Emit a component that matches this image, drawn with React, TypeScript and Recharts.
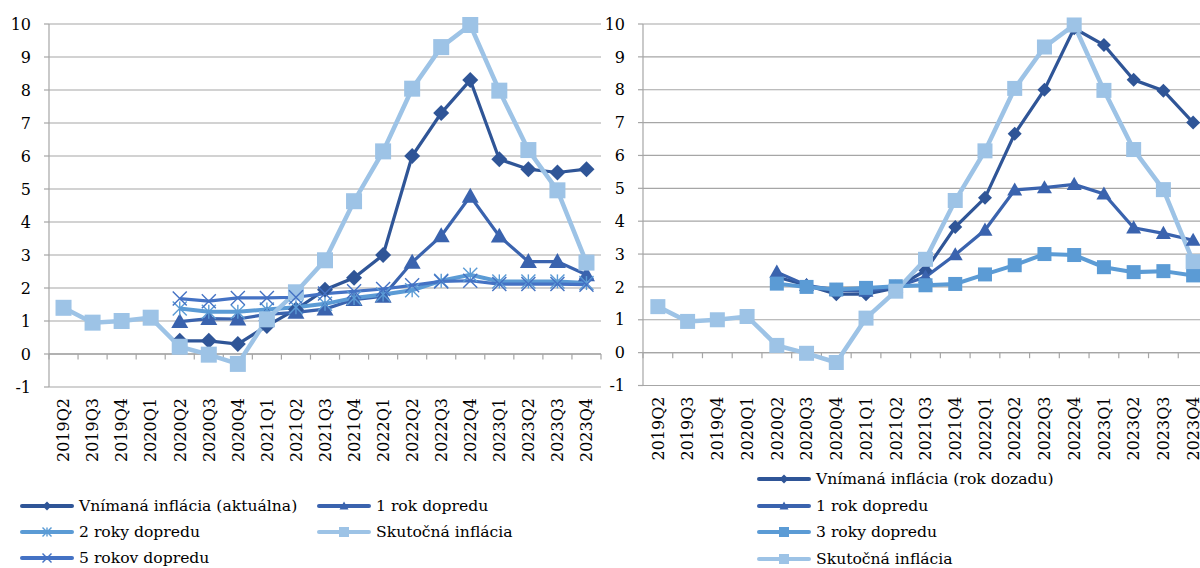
// Inflation expectations vs. actual inflation (two panels)

import {
  LineChart,
  Line,
  XAxis,
  YAxis,
  CartesianGrid,
  ReferenceLine,
  Legend,
} from "recharts";

const quarters = [
  "2019Q2", "2019Q3", "2019Q4", "2020Q1", "2020Q2", "2020Q3", "2020Q4",
  "2021Q1", "2021Q2", "2021Q3", "2021Q4", "2022Q1", "2022Q2", "2022Q3",
  "2022Q4", "2023Q1", "2023Q2", "2023Q3", "2023Q4",
];

const yTicks = [-1, 0, 1, 2, 3, 4, 5, 6, 7, 8, 9, 10];

// shared: actual inflation
const actualInflation = [
  1.4, 0.95, 1.0, 1.1, 0.22, -0.02, -0.3, 1.05, 1.87, 2.84, 4.63, 6.14, 8.04,
  9.3, 9.97, 7.98, 6.18, 4.96, 2.77,
];

// left panel
const perceivedCurrent = [
  null, null, null, null, 0.4, 0.4, 0.3, 0.85, 1.35, 1.95, 2.31, 3.0, 6.0,
  7.3, 8.3, 5.9, 5.6, 5.5, 5.6,
];
const oneYearLeft = [
  null, null, null, null, 0.98, 1.07, 1.06, 1.2, 1.26, 1.36, 1.65, 1.75, 2.78,
  3.58, 4.78, 3.57, 2.8, 2.8, 2.4,
];
const twoYears = [
  null, null, null, null, 1.38, 1.28, 1.28, 1.35, 1.42, 1.52, 1.7, 1.8, 1.93,
  2.22, 2.4, 2.2, 2.2, 2.2, 2.15,
];
const fiveYears = [
  null, null, null, null, 1.68, 1.6, 1.7, 1.7, 1.72, 1.83, 1.9, 1.97, 2.08,
  2.2, 2.22, 2.12, 2.12, 2.12, 2.1,
];

// right panel
const perceivedBack = [
  null, null, null, null, 2.3, 2.05, 1.78, 1.78, 1.97, 2.5, 3.82, 4.71, 6.66,
  8.0, 9.87, 9.36, 8.3, 7.97, 7.0,
];
const oneYearRight = [
  null, null, null, null, 2.45, 2.05, 1.9, 1.87, 2.0, 2.3, 2.98, 3.73, 4.95,
  5.02, 5.12, 4.83, 3.8, 3.63, 3.42,
];
const threeYears = [
  null, null, null, null, 2.1, 2.0, 1.92, 1.97, 2.02, 2.05, 2.09, 2.38, 2.66,
  3.0, 2.97, 2.6, 2.45, 2.48, 2.35,
];

const FONT = '"DejaVu Serif", serif';
const GRID = "#a6a6a6";

const C_DARK = "#2F5597";
const C_TRI = "#3A63AE";
const C_MID = "#5B9BD5";
const C_LIGHT = "#9DC3E6";
const C_CROSS = "#4472C4";

const leftData = quarters.map((q, i) => ({
  i,
  q,
  perceived: perceivedCurrent[i],
  one: oneYearLeft[i],
  two: twoYears[i],
  actual: actualInflation[i],
  five: fiveYears[i],
}));

const rightData = quarters.map((q, i) => ({
  i,
  q,
  perceived: perceivedBack[i],
  one: oneYearRight[i],
  three: threeYears[i],
  actual: actualInflation[i],
}));

type Shape = "diamond" | "triangle" | "square" | "star" | "cross";

function Marker({ shape, cx, cy, color, size }: any) {
  const s = size / 2;
  if (shape === "diamond") {
    return (
      <polygon
        points={`${cx},${cy - s} ${cx + s},${cy} ${cx},${cy + s} ${cx - s},${cy}`}
        fill={color}
      />
    );
  }
  if (shape === "triangle") {
    return (
      <polygon
        points={`${cx},${cy - s} ${cx + s},${cy + s * 0.75} ${cx - s},${cy + s * 0.75}`}
        fill={color}
      />
    );
  }
  if (shape === "square") {
    return <rect x={cx - s} y={cy - s} width={size} height={size} fill={color} />;
  }
  if (shape === "star") {
    return (
      <g stroke={color} strokeWidth={1.4}>
        <line x1={cx - s} y1={cy - s} x2={cx + s} y2={cy + s} />
        <line x1={cx - s} y1={cy + s} x2={cx + s} y2={cy - s} />
        <line x1={cx} y1={cy - s} x2={cx} y2={cy + s} />
      </g>
    );
  }
  return (
    <g stroke={color} strokeWidth={1.4}>
      <line x1={cx - s} y1={cy - s} x2={cx + s} y2={cy + s} />
      <line x1={cx - s} y1={cy + s} x2={cx + s} y2={cy - s} />
    </g>
  );
}

const makeDot = (shape: Shape, color: string, size: number) => (props: any) => {
  const { cx, cy, index, value } = props;
  if (cx == null || cy == null || value == null) return <g key={index} />;
  return <Marker key={index} shape={shape} cx={cx} cy={cy} color={color} size={size} />;
};

const QuarterTick = (props: any) => {
  const { x, y, payload } = props;
  return (
    <g transform={`translate(${x},${y})`}>
      <text
        transform="rotate(-90)"
        x={-11}
        y={0}
        dy="0.36em"
        textAnchor="end"
        fontSize={16}
        fontFamily={FONT}
        fill="#000"
      >
        {quarters[payload.value]}
      </text>
    </g>
  );
};

interface LegendItem {
  label: string;
  shape: Shape;
  color: string;
}

function LegendBox({ items, columns, padLeft, padTop, rowHeight, height, colWidth }: any) {
  return (
    <div
      style={{
        height,
        boxSizing: "border-box",
        paddingLeft: padLeft,
        paddingTop: padTop,
        display: "grid",
        gridTemplateColumns: columns === 2 ? `${colWidth}px auto` : "auto",
        gridAutoRows: rowHeight,
        alignContent: "start",
        fontFamily: FONT,
        fontSize: 15.6,
        color: "#000",
      }}
    >
      {items.map((it: LegendItem) => (
        <div key={it.label} style={{ display: "flex", alignItems: "center" }}>
          <svg width={54} height={16} style={{ display: "block" }}>
            <line x1={2} y1={8} x2={52} y2={8} stroke={it.color} strokeWidth={4} strokeLinecap="round" />
            <Marker shape={it.shape} cx={27} cy={8} color={it.color} size={it.shape === "square" ? 10 : 9} />
          </svg>
          <span style={{ marginLeft: 5, whiteSpace: "nowrap" }}>{it.label}</span>
        </div>
      ))}
    </div>
  );
}

const leftLegend: LegendItem[] = [
  { label: "Vnímaná inflácia (aktuálna)", shape: "diamond", color: C_DARK },
  { label: "1 rok dopredu", shape: "triangle", color: C_TRI },
  { label: "2 roky dopredu", shape: "star", color: C_MID },
  { label: "Skutočná inflácia", shape: "square", color: C_LIGHT },
  { label: "5 rokov dopredu", shape: "cross", color: C_CROSS },
];

const rightLegend: LegendItem[] = [
  { label: "Vnímaná inflácia (rok dozadu)", shape: "diamond", color: C_DARK },
  { label: "1 rok dopredu", shape: "triangle", color: C_TRI },
  { label: "3 roky dopredu", shape: "square", color: C_MID },
  { label: "Skutočná inflácia", shape: "square", color: C_LIGHT },
];

const axisTicks = quarters.map((_, i) => i);
const boundaries = [...quarters.map((_, i) => i - 0.5), quarters.length - 0.5];

function commonAxes(yWidth: number, xHeight: number) {
  return [
    <CartesianGrid key="grid" vertical={false} stroke={GRID} strokeWidth={1.2} />,
    <XAxis
      key="x"
      type="number"
      dataKey="i"
      domain={[-0.5, quarters.length - 0.5]}
      ticks={axisTicks}
      interval={0}
      axisLine={false}
      tickLine={false}
      tickSize={0}
      tickMargin={0}
      height={xHeight}
      tick={<QuarterTick />}
    />,
    <YAxis
      key="y"
      type="number"
      domain={[-1, 10]}
      ticks={yTicks}
      interval={0}
      width={yWidth}
      axisLine={{ stroke: GRID, strokeWidth: 1.2 }}
      tickLine={{ stroke: GRID, strokeWidth: 1.2 }}
      tickSize={5}
      tickMargin={13}
      tick={{ fill: "#000", fontSize: 16, fontFamily: FONT }}
    />,
    <ReferenceLine key="zero" y={0} stroke={GRID} strokeWidth={1.4} />,
    ...boundaries.map((b) => (
      <ReferenceLine
        key={`b${b}`}
        segment={[
          { x: b, y: 0 },
          { x: b, y: -0.17 },
        ]}
        stroke={GRID}
        strokeWidth={1.2}
      />
    )),
  ];
}

export default function App() {
  return (
    <div
      style={{
        position: "fixed",
        left: 0,
        top: 0,
        width: 1200,
        height: 568,
        overflow: "hidden",
        background: "#fff",
      }}
    >
      <div style={{ position: "absolute", left: 0, top: 0 }}>
        <LineChart width={602} height={568} data={leftData} margin={{ top: 24, right: 1, left: 0, bottom: 0 }}>
          {commonAxes(49, 86)}
          <Line dataKey="perceived" stroke={C_DARK} strokeWidth={3.2} dot={makeDot("diamond", C_DARK, 16)} activeDot={false} isAnimationActive={false} />
          <Line dataKey="one" stroke={C_TRI} strokeWidth={3.2} dot={makeDot("triangle", C_TRI, 17)} activeDot={false} isAnimationActive={false} />
          <Line dataKey="two" stroke={C_MID} strokeWidth={4} dot={makeDot("star", C_MID, 14)} activeDot={false} isAnimationActive={false} />
          <Line dataKey="actual" stroke={C_LIGHT} strokeWidth={4.5} dot={makeDot("square", C_LIGHT, 16)} activeDot={false} isAnimationActive={false} />
          <Line dataKey="five" stroke={C_CROSS} strokeWidth={3.2} dot={makeDot("cross", C_CROSS, 14)} activeDot={false} isAnimationActive={false} />
          <Legend
            verticalAlign="bottom"
            wrapperStyle={{ left: 0, width: 602 }}
            content={() => (
              <LegendBox items={leftLegend} columns={2} colWidth={297} padLeft={20} padTop={20} rowHeight={26} height={95} />
            )}
          />
        </LineChart>
      </div>
      <div style={{ position: "absolute", left: 600, top: 0 }}>
        <LineChart width={608} height={568} data={rightData} margin={{ top: 24, right: 0, left: 0, bottom: 0 }}>
          {commonAxes(43, 80)}
          <Line dataKey="perceived" stroke={C_DARK} strokeWidth={3.2} dot={makeDot("diamond", C_DARK, 14)} activeDot={false} isAnimationActive={false} />
          <Line dataKey="one" stroke={C_TRI} strokeWidth={3.2} dot={makeDot("triangle", C_TRI, 15)} activeDot={false} isAnimationActive={false} />
          <Line dataKey="three" stroke={C_MID} strokeWidth={4} dot={makeDot("square", C_MID, 14)} activeDot={false} isAnimationActive={false} />
          <Line dataKey="actual" stroke={C_LIGHT} strokeWidth={4.5} dot={makeDot("square", C_LIGHT, 15)} activeDot={false} isAnimationActive={false} />
          <Legend
            verticalAlign="bottom"
            wrapperStyle={{ left: 0, width: 608 }}
            content={() => (
              <LegendBox items={rightLegend} columns={1} padLeft={157} padTop={0} rowHeight={26.7} height={102.5} />
            )}
          />
        </LineChart>
      </div>
    </div>
  );
}
